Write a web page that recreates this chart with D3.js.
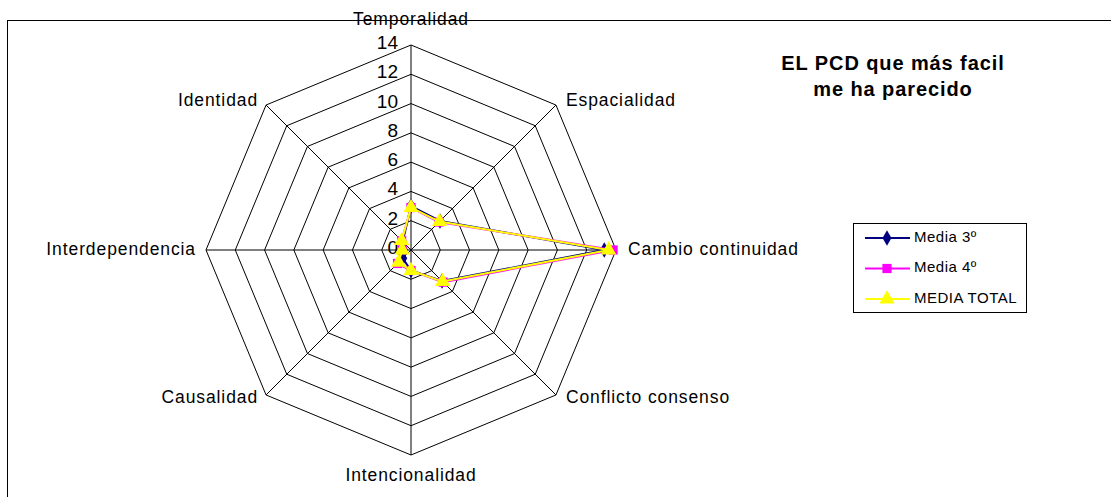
<!DOCTYPE html>
<html>
<head>
<meta charset="utf-8">
<script src="https://cdn.jsdelivr.net/npm/d3@7"></script>
<style>
  body { margin: 0; background: #fff; }
  text { font-family: "Liberation Sans", Arial, sans-serif; fill: #000; }
</style>
</head>
<body>
<div id="content"></div>
<script>
// data
var categories = ['Temporalidad', 'Espacialidad', 'Cambio continuidad', 'Conflicto consenso',
                  'Intencionalidad', 'Causalidad', 'Interdependencia', 'Identidad'];
var media3 = [3.0, 2.8, 13.2, 3.0, 1.4, 0.8, 0.5, 0.8];
var media4 = [2.9, 2.7, 13.8, 3.1, 1.4, 1.3, 0.6, 0.9];
var mediaTotal = [2.9, 2.75, 13.5, 3.05, 1.4, 1.2, 0.6, 0.9];
var tickValues = [0, 2, 4, 6, 8, 10, 12, 14];
var seriesNames = ['Media 3º', 'Media 4º', 'MEDIA TOTAL'];

var width = 1111, height = 497;
var cx = 411, cy = 250, R = 205;

var svg = d3.select("#content")
  .append("svg")
  .attr("width", width)
  .attr("height", height);

// outer frame (runs off the right and bottom of the picture)
svg.append("rect")
  .attr("x", 7.5).attr("y", 20.5)
  .attr("width", 1200).attr("height", 600)
  .attr("fill", "#fff").attr("stroke", "#000").attr("stroke-width", 1);

var rScale = d3.scaleLinear().domain([0, 14]).range([0, R]);
var angle = d3.scaleLinear().domain([0, categories.length]).range([0, 2 * Math.PI]);

function pt(i, v) {
  var a = angle(i);
  return [cx + rScale(v) * Math.sin(a), cy - rScale(v) * Math.cos(a)];
}

var g = svg.append("g");

// octagon grid
tickValues.filter(d => d > 0).forEach(function(t) {
  g.append("path")
    .attr("d", d3.line()(categories.map((c, i) => pt(i, t))) + "Z")
    .attr("fill", "none").attr("stroke", "#000").attr("stroke-width", 1);
});

// spokes
categories.forEach(function(c, i) {
  var p = pt(i, 14);
  g.append("line")
    .attr("x1", cx).attr("y1", cy).attr("x2", p[0]).attr("y2", p[1])
    .attr("stroke", "#000").attr("stroke-width", 1);
});

// tick labels on the top spoke
g.selectAll(".tick")
  .data(tickValues)
  .join("text")
    .attr("class", "tick")
    .attr("x", cx - 13)
    .attr("y", d => cy - rScale(d) - 1)
    .attr("text-anchor", "end")
    .attr("dominant-baseline", "middle")
    .style("font-size", "19px")
    .text(d => d);

// category labels
var labelPos = [
  {dx: 0, dy: -25, anchor: "middle"},
  {dx: 10, dy: -4, anchor: "start"},
  {dx: 12, dy: 0, anchor: "start"},
  {dx: 10, dy: 3, anchor: "start"},
  {dx: 0, dy: 21, anchor: "middle"},
  {dx: -8, dy: 3, anchor: "end"},
  {dx: -10, dy: 0, anchor: "end"},
  {dx: -8, dy: -4, anchor: "end"}
];
g.selectAll(".catLabel")
  .data(categories)
  .join("text")
    .attr("class", "catLabel")
    .attr("x", (d, i) => pt(i, 14)[0] + labelPos[i].dx)
    .attr("y", (d, i) => pt(i, 14)[1] + labelPos[i].dy)
    .attr("text-anchor", (d, i) => labelPos[i].anchor)
    .attr("dominant-baseline", "middle")
    .style("font-size", "17.5px")
    .style("letter-spacing", "0.9px")
    .text(d => d);

// series
var series = [
  {name: seriesNames[0], values: media3, color: "#000080", symbol: d3.symbolDiamond, size: 70},
  {name: seriesNames[1], values: media4, color: "#FF00FF", symbol: d3.symbolSquare, size: 85},
  {name: seriesNames[2], values: mediaTotal, color: "#FFFF00", symbol: d3.symbolTriangle, size: 100}
];

series.forEach(function(s) {
  var pts = s.values.map((v, i) => pt(i, v));
  g.append("path")
    .attr("d", d3.line()(pts) + "Z")
    .attr("fill", "none").attr("stroke", s.color).attr("stroke-width", 2);
  g.selectAll(null)
    .data(pts)
    .join("path")
      .attr("transform", d => "translate(" + d[0] + "," + d[1] + ")")
      .attr("d", d3.symbol().type(s.symbol).size(s.size))
      .attr("fill", s.color);
});

// title
var title = svg.append("text")
  .attr("x", 893).attr("y", 70)
  .attr("text-anchor", "middle")
  .style("font-size", "20px").style("font-weight", "bold")
  .style("letter-spacing", "0.9px");
title.append("tspan").attr("x", 893).text("EL PCD que más facil");
title.append("tspan").attr("x", 893).attr("dy", 26).text("me ha parecido");

// legend
var legend = svg.append("g").attr("transform", "translate(853,223)");
legend.append("rect")
  .attr("x", 0.5).attr("y", 0.5).attr("width", 173).attr("height", 89)
  .attr("fill", "#fff").attr("stroke", "#000").attr("stroke-width", 1);
series.forEach(function(s, i) {
  var y = 15 + i * 30.5;
  legend.append("line")
    .attr("x1", 12).attr("x2", 57).attr("y1", y).attr("y2", y)
    .attr("stroke", s.color).attr("stroke-width", 2);
  legend.append("path")
    .attr("transform", "translate(34," + y + ")")
    .attr("d", d3.symbol().type(s.symbol).size(s.size))
    .attr("fill", s.color);
  legend.append("text")
    .attr("x", 61).attr("y", y)
    .attr("dominant-baseline", "middle")
    .style("font-size", "15px")
    .style("letter-spacing", "0.5px")
    .text(s.name);
});
</script>
</body>
</html>
